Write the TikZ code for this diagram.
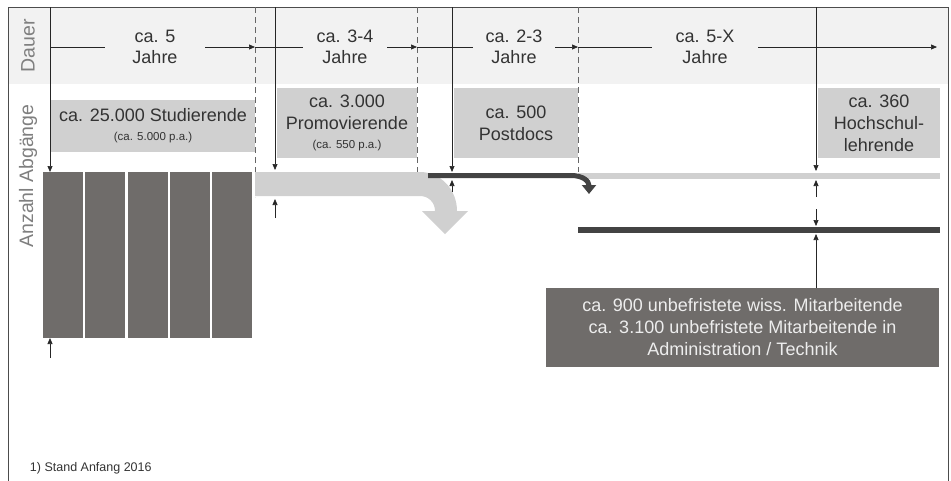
\documentclass[tikz,border=0pt]{standalone}
\usepackage{fontspec}
\setmainfont{Liberation Sans}
\usetikzlibrary{arrows.meta}
\definecolor{headbg}{HTML}{F2F2F2}
\definecolor{boxgray}{HTML}{D0D0D0}
\definecolor{darkbox}{HTML}{6F6C6A}
\definecolor{darkline}{HTML}{434343}
\definecolor{txt}{HTML}{333333}
\definecolor{sidetxt}{HTML}{7F7F7F}
\definecolor{lighttxt}{HTML}{EDEDED}
\begin{document}
\begin{tikzpicture}[x=1pt,y=-1pt,
  every node/.style={inner sep=0pt, outer sep=0pt, text=txt, align=center, font=\fontsize{18}{21}\selectfont},
  tip/.style={-{Triangle[length=6pt,width=5pt]}, draw=black!85, line width=0.7pt},
  sep/.style={draw=black!60, dash pattern=on 6pt off 4pt, line width=0.7pt},
  lbox/.style={fill=boxgray, anchor=north west, font=\fontsize{18}{22}\selectfont},
  side/.style={rotate=90, text=sidetxt, font=\fontsize{19.5}{22}\selectfont}]

\useasboundingbox (0,0) rectangle (951,480);
\fill[headbg] (8,7) rectangle (948,84);
\draw[black!70, line width=1pt] (8,481) -- (8,7) -- (948,7) -- (948,481);

\node[side] (dauer) at (28,46) {Dauer};
\node[side] (anzahl) at (28,176) {Anzahl Abgänge};

\coordinate (s0) at (50,7);
\coordinate (s1) at (275,7);
\coordinate (s2) at (452,7);
\coordinate (s3) at (816,7);
\coordinate (d1) at (255,7);
\coordinate (d2) at (417,7);
\coordinate (d3) at (578,7);
\draw[sep] (d1) -- (255,197);
\draw[sep] (d2) -- (417,172);
\draw[sep] (d3) -- (578,172);

\coordinate (t0) at (50,47);
\coordinate (t1) at (255,47);
\coordinate (t2) at (417,47);
\coordinate (t3) at (578,47);
\coordinate (t4) at (937,47);
\node[minimum width=100pt] (j1) at (155,47) {ca. 5\\Jahre};
\node[minimum width=84pt] (j2) at (345,47) {ca. 3-4\\Jahre};
\node[minimum width=82pt] (j3) at (514,47) {ca. 2-3\\Jahre};
\node[minimum width=106pt] (j4) at (705,47) {ca. 5-X\\Jahre};
\draw[black!85, line width=0.7pt] (t0) -- (j1);
\draw[tip] (j1) -- (t1);
\draw[black!85, line width=0.7pt] (t1) -- (j2);
\draw[tip] (j2) -- (t2);
\draw[black!85, line width=0.7pt] (t2) -- (j3);
\draw[tip] (j3) -- (t3);
\draw[black!85, line width=0.7pt] (t3) -- (j4);
\draw[tip] (j4) -- (t4);

\node[lbox, minimum width=204pt, minimum height=52pt] (stud) at (51,100) {ca. 25.000 Studierende\\[-3pt]{\fontsize{11.5}{13}\selectfont (ca. 5.000 p.a.)}};
\node[lbox, minimum width=140pt, minimum height=70pt] (prom) at (277,88) {ca. 3.000\\Promovierende\\[-3pt]{\fontsize{11.5}{13}\selectfont (ca. 550 p.a.)}};
\node[lbox, minimum width=124pt, minimum height=70pt] (post) at (454,88) {ca. 500\\Postdocs};
\node[lbox, minimum width=122pt, minimum height=70pt] (prof) at (818,88) {ca. 360\\Hochschul-\\lehrende};

\foreach \i in {0,...,4}
  \node[fill=darkbox, anchor=north west, minimum width=40pt, minimum height=166pt] (col\i) at ({43+42.25*\i},172) {};

\fill[boxgray] (255,172) -- (420,172) .. controls (440,172) and (457,189) .. (457,211)
  -- (468,211) -- (445,234) -- (422,211) -- (435,211)
  .. controls (435,202) and (428,196) .. (420,196) -- (255,196) -- cycle;

\coordinate (g0) at (578,176);
\coordinate (g1) at (940,176);
\draw[boxgray, line width=6pt] (g0) -- (g1);
\draw[darkline, line width=5pt, -{Triangle[length=9pt,width=14pt]}] (428,175.5) -- (571,175.5)
  .. controls (583,175.5) and (589,181) .. (589,194);
\coordinate (k0) at (578,230);
\coordinate (k1) at (940,230);
\draw[darkline, line width=6pt] (k0) -- (k1);

\node[fill=darkbox, text=lighttxt, anchor=north west, minimum width=393pt, minimum height=79pt, font=\fontsize{18}{22}\selectfont] (staff) at (546,288)
  {ca. 900 unbefristete wiss. Mitarbeitende\\ca. 3.100 unbefristete Mitarbeitende in\\Administration / Technik};

\draw[tip] (s0) -- (s0 |- col0.north);
\draw[tip] (s1) -- (275,170);
\draw[tip] (s2) -- (452,172);
\draw[tip] (s3) -- (816,171);

\coordinate (u0) at (50,358);
\draw[tip] (u0) -- (u0 |- col0.south);
\coordinate (u1) at (275,218);
\draw[tip] (u1) -- (275,199);
\coordinate (u2) at (452,192);
\draw[tip] (u2) -- (452,180);
\coordinate (u3) at (816,197);
\draw[tip] (u3) -- (816,180);
\coordinate (u4) at (816,209);
\draw[tip] (u4) -- (816,226);
\draw[tip] (s3 |- staff.north) -- (816,234);

\node[anchor=west, font=\fontsize{12.5}{14}\selectfont] (note) at (30,468) {1) Stand Anfang 2016};
\end{tikzpicture}
\end{document}
